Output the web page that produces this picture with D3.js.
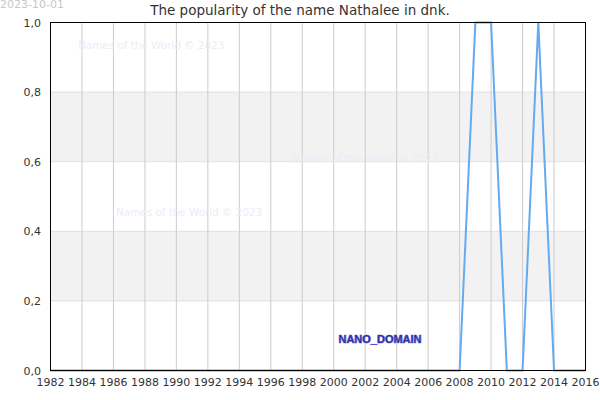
<!DOCTYPE html>
<html><head><meta charset="utf-8">
<script src="https://cdn.jsdelivr.net/npm/d3@7"></script>
<style>body{margin:0;background:#fff}svg{display:block;font-family:"DejaVu Sans",sans-serif}</style>
</head><body><svg id="c" width="600" height="400"></svg>
<script>
const years = d3.range(1982, 2017);
const values = [0,0,0,0,0,0,0,0,0,0,0,0,0,0,0,0,0,0,0,0,0,0,0,0,0,0,0,1,1,0,0,1,0,0,0];
const yTicks = [0,0.2,0.4,0.6,0.8,1.0];
const xTicks = d3.range(1982, 2017, 2);
const title = "The popularity of the name Nathalee in dnk.";
const dateLabel = "2023-10-01";
const watermark = "Names of the World © 2023";

const svg = d3.select("#c");
const m = {l:50.5, r:585.5, t:22.5, b:370.5};
const x = d3.scaleLinear().domain([1982,2016]).range([m.l,m.r]);
const y = d3.scaleLinear().domain([0,1]).range([m.b,m.t]);

[[0.2,0.4],[0.6,0.8]].forEach(b=>{
  svg.append("rect").attr("x",m.l).attr("width",m.r-m.l)
    .attr("y",y(b[1])).attr("height",y(b[0])-y(b[1])).attr("fill","#f2f2f2");
});
svg.append("g").selectAll("line").data(yTicks.slice(1,-1)).join("line")
  .attr("x1",m.l).attr("x2",m.r).attr("y1",d=>y(d)).attr("y2",d=>y(d))
  .attr("stroke","#e0e0e0").attr("stroke-width",1);
svg.append("g").selectAll("line").data(xTicks.slice(1,-1)).join("line")
  .attr("x1",d=>x(d)).attr("x2",d=>x(d)).attr("y1",m.t).attr("y2",m.b)
  .attr("stroke","#cccccc").attr("stroke-width",1);

const wm = [[78,49],[292,162],[116,216]];
svg.append("g").selectAll("text").data(wm).join("text")
  .attr("x",d=>d[0]).attr("y",d=>d[1]).text(watermark)
  .attr("font-size",10.4).attr("fill","#ececf8");

svg.append("path").datum(years.map((yr,i)=>[yr,values[i]]))
  .attr("d",d3.line().x(d=>x(d[0])).y(d=>y(d[1])))
  .attr("fill","none").attr("stroke","#64aaf0").attr("stroke-width",2);

svg.append("rect").attr("x",m.l).attr("y",m.t).attr("width",m.r-m.l).attr("height",m.b-m.t)
  .attr("fill","none").attr("stroke","#000").attr("stroke-width",1);

const fmt = d=>d3.format(".1f")(d).replace(".",",");
svg.append("g").selectAll("text").data(yTicks).join("text")
  .attr("x",41).attr("y",d=>y(d)+4).attr("text-anchor","end")
  .attr("font-size",11).attr("fill","#333").text(fmt);
svg.append("g").selectAll("text").data(xTicks).join("text")
  .attr("x",d=>x(d)).attr("y",386).attr("text-anchor","middle")
  .attr("font-size",11).attr("fill","#333").text(d=>d);

svg.append("text").attr("x",300).attr("y",15).attr("text-anchor","middle")
  .attr("font-size",13.5).attr("fill","#333").text(title);
svg.append("text").attr("x",0).attr("y",8).attr("font-size",11).attr("fill","#c8c8c8").text(dateLabel);

svg.append("text").attr("x",380).attr("y",343).attr("text-anchor","middle")
  .attr("font-family","'Liberation Sans',Arial,sans-serif")
  .attr("font-size",11).attr("font-weight","bold").attr("fill","#1a1a80")
  .attr("stroke","#5050d0").attr("stroke-width",0.7).text("NANO_DOMAIN");
</script></body></html>
